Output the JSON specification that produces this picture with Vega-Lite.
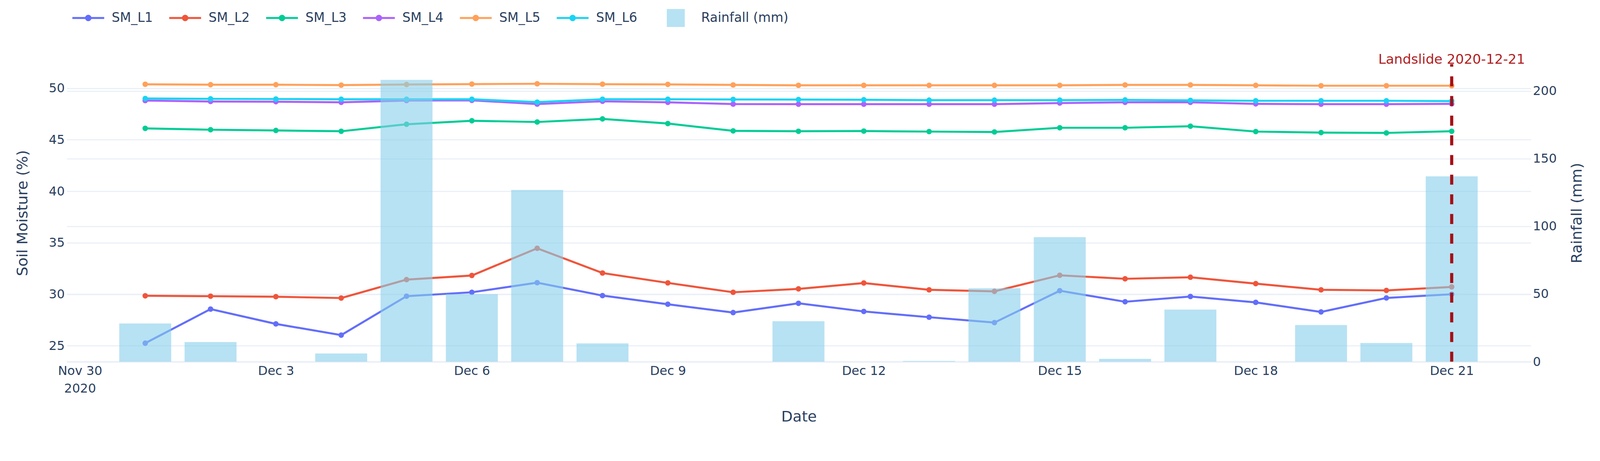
{
  "$schema": "https://vega.github.io/schema/vega-lite/v6.json",
  "width": 3748,
  "height": 761,
  "autosize": {"type": "none"},
  "padding": {"left": 171, "top": 164, "right": 177, "bottom": 194},
  "background": "white",
  "config": {
    "view": {"stroke": null},
    "axis": {
      "labelFont": "DejaVu Sans",
      "labelFontSize": 32,
      "labelColor": "#2a3f5f",
      "titleFont": "DejaVu Sans",
      "titleFontSize": 38,
      "titleFontWeight": "normal",
      "titleColor": "#2a3f5f",
      "ticks": false,
      "gridColor": "#EBF0F8",
      "gridWidth": 2.8
    }
  },
  "datasets": {
    "moisture": [
      {"date": "2020-12-01T00:00:00", "sensor": "SM_L1", "moisture": 25.25},
      {"date": "2020-12-01T00:00:00", "sensor": "SM_L2", "moisture": 29.85},
      {"date": "2020-12-01T00:00:00", "sensor": "SM_L3", "moisture": 46.1},
      {"date": "2020-12-01T00:00:00", "sensor": "SM_L4", "moisture": 48.8},
      {"date": "2020-12-01T00:00:00", "sensor": "SM_L5", "moisture": 50.38},
      {"date": "2020-12-01T00:00:00", "sensor": "SM_L6", "moisture": 49.0},
      {"date": "2020-12-02T00:00:00", "sensor": "SM_L1", "moisture": 28.56},
      {"date": "2020-12-02T00:00:00", "sensor": "SM_L2", "moisture": 29.81},
      {"date": "2020-12-02T00:00:00", "sensor": "SM_L3", "moisture": 45.97},
      {"date": "2020-12-02T00:00:00", "sensor": "SM_L4", "moisture": 48.71},
      {"date": "2020-12-02T00:00:00", "sensor": "SM_L5", "moisture": 50.34},
      {"date": "2020-12-02T00:00:00", "sensor": "SM_L6", "moisture": 48.97},
      {"date": "2020-12-03T00:00:00", "sensor": "SM_L1", "moisture": 27.12},
      {"date": "2020-12-03T00:00:00", "sensor": "SM_L2", "moisture": 29.76},
      {"date": "2020-12-03T00:00:00", "sensor": "SM_L3", "moisture": 45.9},
      {"date": "2020-12-03T00:00:00", "sensor": "SM_L4", "moisture": 48.69},
      {"date": "2020-12-03T00:00:00", "sensor": "SM_L5", "moisture": 50.34},
      {"date": "2020-12-03T00:00:00", "sensor": "SM_L6", "moisture": 48.95},
      {"date": "2020-12-04T00:00:00", "sensor": "SM_L1", "moisture": 26.03},
      {"date": "2020-12-04T00:00:00", "sensor": "SM_L2", "moisture": 29.63},
      {"date": "2020-12-04T00:00:00", "sensor": "SM_L3", "moisture": 45.82},
      {"date": "2020-12-04T00:00:00", "sensor": "SM_L4", "moisture": 48.63},
      {"date": "2020-12-04T00:00:00", "sensor": "SM_L5", "moisture": 50.3},
      {"date": "2020-12-04T00:00:00", "sensor": "SM_L6", "moisture": 48.93},
      {"date": "2020-12-05T00:00:00", "sensor": "SM_L1", "moisture": 29.81},
      {"date": "2020-12-05T00:00:00", "sensor": "SM_L2", "moisture": 31.42},
      {"date": "2020-12-05T00:00:00", "sensor": "SM_L3", "moisture": 46.5},
      {"date": "2020-12-05T00:00:00", "sensor": "SM_L4", "moisture": 48.8},
      {"date": "2020-12-05T00:00:00", "sensor": "SM_L5", "moisture": 50.36},
      {"date": "2020-12-05T00:00:00", "sensor": "SM_L6", "moisture": 48.93},
      {"date": "2020-12-06T00:00:00", "sensor": "SM_L1", "moisture": 30.19},
      {"date": "2020-12-06T00:00:00", "sensor": "SM_L2", "moisture": 31.82},
      {"date": "2020-12-06T00:00:00", "sensor": "SM_L3", "moisture": 46.84},
      {"date": "2020-12-06T00:00:00", "sensor": "SM_L4", "moisture": 48.82},
      {"date": "2020-12-06T00:00:00", "sensor": "SM_L5", "moisture": 50.4},
      {"date": "2020-12-06T00:00:00", "sensor": "SM_L6", "moisture": 48.93},
      {"date": "2020-12-07T00:00:00", "sensor": "SM_L1", "moisture": 31.12},
      {"date": "2020-12-07T00:00:00", "sensor": "SM_L2", "moisture": 34.46},
      {"date": "2020-12-07T00:00:00", "sensor": "SM_L3", "moisture": 46.72},
      {"date": "2020-12-07T00:00:00", "sensor": "SM_L4", "moisture": 48.46},
      {"date": "2020-12-07T00:00:00", "sensor": "SM_L5", "moisture": 50.43},
      {"date": "2020-12-07T00:00:00", "sensor": "SM_L6", "moisture": 48.65},
      {"date": "2020-12-08T00:00:00", "sensor": "SM_L1", "moisture": 29.87},
      {"date": "2020-12-08T00:00:00", "sensor": "SM_L2", "moisture": 32.06},
      {"date": "2020-12-08T00:00:00", "sensor": "SM_L3", "moisture": 47.02},
      {"date": "2020-12-08T00:00:00", "sensor": "SM_L4", "moisture": 48.73},
      {"date": "2020-12-08T00:00:00", "sensor": "SM_L5", "moisture": 50.39},
      {"date": "2020-12-08T00:00:00", "sensor": "SM_L6", "moisture": 48.93},
      {"date": "2020-12-09T00:00:00", "sensor": "SM_L1", "moisture": 29.03},
      {"date": "2020-12-09T00:00:00", "sensor": "SM_L2", "moisture": 31.1},
      {"date": "2020-12-09T00:00:00", "sensor": "SM_L3", "moisture": 46.57},
      {"date": "2020-12-09T00:00:00", "sensor": "SM_L4", "moisture": 48.63},
      {"date": "2020-12-09T00:00:00", "sensor": "SM_L5", "moisture": 50.37},
      {"date": "2020-12-09T00:00:00", "sensor": "SM_L6", "moisture": 48.93},
      {"date": "2020-12-10T00:00:00", "sensor": "SM_L1", "moisture": 28.22},
      {"date": "2020-12-10T00:00:00", "sensor": "SM_L2", "moisture": 30.19},
      {"date": "2020-12-10T00:00:00", "sensor": "SM_L3", "moisture": 45.86},
      {"date": "2020-12-10T00:00:00", "sensor": "SM_L4", "moisture": 48.46},
      {"date": "2020-12-10T00:00:00", "sensor": "SM_L5", "moisture": 50.32},
      {"date": "2020-12-10T00:00:00", "sensor": "SM_L6", "moisture": 48.91},
      {"date": "2020-12-11T00:00:00", "sensor": "SM_L1", "moisture": 29.12},
      {"date": "2020-12-11T00:00:00", "sensor": "SM_L2", "moisture": 30.52},
      {"date": "2020-12-11T00:00:00", "sensor": "SM_L3", "moisture": 45.82},
      {"date": "2020-12-11T00:00:00", "sensor": "SM_L4", "moisture": 48.45},
      {"date": "2020-12-11T00:00:00", "sensor": "SM_L5", "moisture": 50.28},
      {"date": "2020-12-11T00:00:00", "sensor": "SM_L6", "moisture": 48.9},
      {"date": "2020-12-12T00:00:00", "sensor": "SM_L1", "moisture": 28.33},
      {"date": "2020-12-12T00:00:00", "sensor": "SM_L2", "moisture": 31.09},
      {"date": "2020-12-12T00:00:00", "sensor": "SM_L3", "moisture": 45.84},
      {"date": "2020-12-12T00:00:00", "sensor": "SM_L4", "moisture": 48.45},
      {"date": "2020-12-12T00:00:00", "sensor": "SM_L5", "moisture": 50.28},
      {"date": "2020-12-12T00:00:00", "sensor": "SM_L6", "moisture": 48.88},
      {"date": "2020-12-13T00:00:00", "sensor": "SM_L1", "moisture": 27.77},
      {"date": "2020-12-13T00:00:00", "sensor": "SM_L2", "moisture": 30.43},
      {"date": "2020-12-13T00:00:00", "sensor": "SM_L3", "moisture": 45.79},
      {"date": "2020-12-13T00:00:00", "sensor": "SM_L4", "moisture": 48.45},
      {"date": "2020-12-13T00:00:00", "sensor": "SM_L5", "moisture": 50.28},
      {"date": "2020-12-13T00:00:00", "sensor": "SM_L6", "moisture": 48.84},
      {"date": "2020-12-14T00:00:00", "sensor": "SM_L1", "moisture": 27.25},
      {"date": "2020-12-14T00:00:00", "sensor": "SM_L2", "moisture": 30.28},
      {"date": "2020-12-14T00:00:00", "sensor": "SM_L3", "moisture": 45.75},
      {"date": "2020-12-14T00:00:00", "sensor": "SM_L4", "moisture": 48.45},
      {"date": "2020-12-14T00:00:00", "sensor": "SM_L5", "moisture": 50.28},
      {"date": "2020-12-14T00:00:00", "sensor": "SM_L6", "moisture": 48.84},
      {"date": "2020-12-15T00:00:00", "sensor": "SM_L1", "moisture": 30.34},
      {"date": "2020-12-15T00:00:00", "sensor": "SM_L2", "moisture": 31.84},
      {"date": "2020-12-15T00:00:00", "sensor": "SM_L3", "moisture": 46.16},
      {"date": "2020-12-15T00:00:00", "sensor": "SM_L4", "moisture": 48.56},
      {"date": "2020-12-15T00:00:00", "sensor": "SM_L5", "moisture": 50.28},
      {"date": "2020-12-15T00:00:00", "sensor": "SM_L6", "moisture": 48.84},
      {"date": "2020-12-16T00:00:00", "sensor": "SM_L1", "moisture": 29.27},
      {"date": "2020-12-16T00:00:00", "sensor": "SM_L2", "moisture": 31.5},
      {"date": "2020-12-16T00:00:00", "sensor": "SM_L3", "moisture": 46.16},
      {"date": "2020-12-16T00:00:00", "sensor": "SM_L4", "moisture": 48.63},
      {"date": "2020-12-16T00:00:00", "sensor": "SM_L5", "moisture": 50.32},
      {"date": "2020-12-16T00:00:00", "sensor": "SM_L6", "moisture": 48.86},
      {"date": "2020-12-17T00:00:00", "sensor": "SM_L1", "moisture": 29.78},
      {"date": "2020-12-17T00:00:00", "sensor": "SM_L2", "moisture": 31.65},
      {"date": "2020-12-17T00:00:00", "sensor": "SM_L3", "moisture": 46.31},
      {"date": "2020-12-17T00:00:00", "sensor": "SM_L4", "moisture": 48.63},
      {"date": "2020-12-17T00:00:00", "sensor": "SM_L5", "moisture": 50.32},
      {"date": "2020-12-17T00:00:00", "sensor": "SM_L6", "moisture": 48.82},
      {"date": "2020-12-18T00:00:00", "sensor": "SM_L1", "moisture": 29.21},
      {"date": "2020-12-18T00:00:00", "sensor": "SM_L2", "moisture": 31.03},
      {"date": "2020-12-18T00:00:00", "sensor": "SM_L3", "moisture": 45.79},
      {"date": "2020-12-18T00:00:00", "sensor": "SM_L4", "moisture": 48.48},
      {"date": "2020-12-18T00:00:00", "sensor": "SM_L5", "moisture": 50.28},
      {"date": "2020-12-18T00:00:00", "sensor": "SM_L6", "moisture": 48.78},
      {"date": "2020-12-19T00:00:00", "sensor": "SM_L1", "moisture": 28.28},
      {"date": "2020-12-19T00:00:00", "sensor": "SM_L2", "moisture": 30.43},
      {"date": "2020-12-19T00:00:00", "sensor": "SM_L3", "moisture": 45.69},
      {"date": "2020-12-19T00:00:00", "sensor": "SM_L4", "moisture": 48.45},
      {"date": "2020-12-19T00:00:00", "sensor": "SM_L5", "moisture": 50.24},
      {"date": "2020-12-19T00:00:00", "sensor": "SM_L6", "moisture": 48.78},
      {"date": "2020-12-20T00:00:00", "sensor": "SM_L1", "moisture": 29.64},
      {"date": "2020-12-20T00:00:00", "sensor": "SM_L2", "moisture": 30.37},
      {"date": "2020-12-20T00:00:00", "sensor": "SM_L3", "moisture": 45.66},
      {"date": "2020-12-20T00:00:00", "sensor": "SM_L4", "moisture": 48.45},
      {"date": "2020-12-20T00:00:00", "sensor": "SM_L5", "moisture": 50.24},
      {"date": "2020-12-20T00:00:00", "sensor": "SM_L6", "moisture": 48.78},
      {"date": "2020-12-21T00:00:00", "sensor": "SM_L1", "moisture": 30.0},
      {"date": "2020-12-21T00:00:00", "sensor": "SM_L2", "moisture": 30.71},
      {"date": "2020-12-21T00:00:00", "sensor": "SM_L3", "moisture": 45.82},
      {"date": "2020-12-21T00:00:00", "sensor": "SM_L4", "moisture": 48.48},
      {"date": "2020-12-21T00:00:00", "sensor": "SM_L5", "moisture": 50.24},
      {"date": "2020-12-21T00:00:00", "sensor": "SM_L6", "moisture": 48.75}
    ],
    "rain": [
      {"date": "2020-12-01T00:00:00", "rain": 28.2},
      {"date": "2020-12-02T00:00:00", "rain": 14.5},
      {"date": "2020-12-03T00:00:00", "rain": 0},
      {"date": "2020-12-04T00:00:00", "rain": 6.1},
      {"date": "2020-12-05T00:00:00", "rain": 208.2},
      {"date": "2020-12-06T00:00:00", "rain": 49.9},
      {"date": "2020-12-07T00:00:00", "rain": 126.9},
      {"date": "2020-12-08T00:00:00", "rain": 13.5},
      {"date": "2020-12-09T00:00:00", "rain": 0},
      {"date": "2020-12-10T00:00:00", "rain": 0},
      {"date": "2020-12-11T00:00:00", "rain": 29.9},
      {"date": "2020-12-12T00:00:00", "rain": 0},
      {"date": "2020-12-13T00:00:00", "rain": 0.5},
      {"date": "2020-12-14T00:00:00", "rain": 54.2},
      {"date": "2020-12-15T00:00:00", "rain": 92.0},
      {"date": "2020-12-16T00:00:00", "rain": 2.1},
      {"date": "2020-12-17T00:00:00", "rain": 38.5},
      {"date": "2020-12-18T00:00:00", "rain": 0},
      {"date": "2020-12-19T00:00:00", "rain": 27.1},
      {"date": "2020-12-20T00:00:00", "rain": 13.8},
      {"date": "2020-12-21T00:00:00", "rain": 136.9}
    ],
    "events": [
      {"date": "2020-12-21T00:00:00", "label": "Landslide 2020-12-21"}
    ]
  },
  "layer": [
    {
      "data": {"name": "moisture"},
      "mark": {
        "type": "line",
        "strokeWidth": 5.2,
        "point": {"filled": true, "size": 198, "opacity": 1}
      },
      "encoding": {
        "x": {
          "field": "date",
          "type": "temporal",
          "title": "Date",
          "scale": {
            "domain": [
              {"year": 2020, "month": "nov", "date": 29, "hours": 19, "minutes": 54},
              {"year": 2020, "month": "dec", "date": 22, "hours": 4, "minutes": 22}
            ]
          },
          "axis": {
            "values": [
              {"year": 2020, "month": "nov", "date": 30},
              {"year": 2020, "month": "dec", "date": 3},
              {"year": 2020, "month": "dec", "date": 6},
              {"year": 2020, "month": "dec", "date": 9},
              {"year": 2020, "month": "dec", "date": 12},
              {"year": 2020, "month": "dec", "date": 15},
              {"year": 2020, "month": "dec", "date": 18},
              {"year": 2020, "month": "dec", "date": 21}
            ],
            "labelExpr": "timeFormat(datum.value, '%b %d') == 'Nov 30' ? ['Nov 30', '2020'] : timeFormat(datum.value, '%b %-d')",
            "labelLineHeight": 44.6,
            "labelPadding": 8.5,
            "labelOverlap": false,
            "grid": false,
            "domain": true,
            "domainColor": "#EBF0F8",
            "domainWidth": 4.7,
            "titlePadding": 38
          }
        },
        "y": {
          "field": "moisture",
          "type": "quantitative",
          "title": "Soil Moisture (%)",
          "scale": {"domain": [23.453, 52.338], "nice": false, "zero": false},
          "axis": {
            "orient": "left",
            "values": [25, 30, 35, 40, 45, 50],
            "domain": false,
            "grid": true,
            "labelPadding": 5.7,
            "titlePadding": 47
          }
        },
        "color": {
          "field": "sensor",
          "type": "nominal",
          "scale": {
            "domain": ["SM_L1", "SM_L2", "SM_L3", "SM_L4", "SM_L5", "SM_L6"],
            "range": ["#636EFA", "#EF553B", "#00CC96", "#AB63FA", "#FFA15A", "#19D3F3"]
          },
          "legend": {
            "orient": "none",
            "direction": "horizontal",
            "legendX": 14,
            "legendY": -159,
            "title": null,
            "padding": 0,
            "symbolType": "M-1,-0.064L1,-0.064L1,0.064L-1,0.064Z M0.2,0A0.2,0.2,0,1,1,-0.2,0A0.2,0.2,0,1,1,0.2,0Z",
            "symbolSize": 6642,
            "symbolStrokeWidth": 0,
            "symbolOpacity": 1,
            "labelOffset": 19,
            "labelLimit": 0,
            "columnPadding": 41,
            "labelFont": "DejaVu Sans",
            "labelFontSize": 33,
            "labelColor": "#2a3f5f",
            "encode": {
              "symbols": {
                "update": {
                  "fill": {"scale": "color", "field": "value"},
                  "fillOpacity": {"value": 1}
                }
              }
            }
          }
        }
      }
    },
    {
      "layer": [
        {
          "data": {"name": "rain"},
          "mark": {"type": "bar", "size": 133, "opacity": 0.6},
          "encoding": {
            "x": {"field": "date", "type": "temporal", "title": "Date"},
            "y": {
              "field": "rain",
              "type": "quantitative",
              "title": "Rainfall (mm)",
              "scale": {"domain": [0, 219.8], "nice": false, "zero": true},
              "axis": {
                "orient": "right",
                "values": [0, 50, 100, 150, 200],
                "domain": false,
                "grid": true,
                "labelPadding": 4.7,
                "titleAngle": 270,
                "titlePadding": 72
              }
            },
            "fill": {
              "datum": "Rainfall (mm)",
              "type": "nominal",
              "scale": {"range": ["#87CEEB"]},
              "legend": {
                "orient": "none",
                "legendX": 1536,
                "legendY": -141,
                "title": null,
                "padding": 0,
                "symbolType": "square",
                "symbolSize": 2116,
                "symbolOpacity": 0.6,
                "symbolStrokeWidth": 0,
                "labelOffset": 42,
                "labelLimit": 0,
                "labelFont": "DejaVu Sans",
                "labelFontSize": 33,
                "labelColor": "#2a3f5f"
              }
            }
          }
        },
        {
          "data": {"name": "events"},
          "mark": {"type": "rule", "color": "#A50F15", "strokeWidth": 8, "strokeDash": [25.6, 24.7]},
          "encoding": {
            "x": {"field": "date", "type": "temporal", "title": "Date"},
            "y": {
              "datum": 0,
              "type": "quantitative",
              "title": "Rainfall (mm)",
              "scale": {"domain": [0, 219.8], "nice": false, "zero": true},
              "axis": {
                "orient": "right",
                "values": [0, 50, 100, 150, 200],
                "domain": false,
                "grid": true,
                "labelPadding": 4.7,
                "titleAngle": 270,
                "titlePadding": 72
              }
            },
            "y2": {"datum": 219.8}
          }
        },
        {
          "data": {"name": "events"},
          "mark": {
            "type": "text",
            "color": "#B01E22",
            "font": "DejaVu Sans",
            "fontSize": 34.5,
            "align": "center",
            "baseline": "alphabetic"
          },
          "encoding": {
            "x": {"field": "date", "type": "temporal", "title": "Date"},
            "y": {
              "datum": 220.1,
              "type": "quantitative",
              "title": "Rainfall (mm)",
              "scale": {"domain": [0, 219.8], "nice": false, "zero": true},
              "axis": {
                "orient": "right",
                "values": [0, 50, 100, 150, 200],
                "domain": false,
                "grid": true,
                "labelPadding": 4.7,
                "titleAngle": 270,
                "titlePadding": 72
              }
            },
            "text": {"field": "label"}
          }
        }
      ]
    }
  ],
  "resolve": {"scale": {"y": "independent"}}
}
